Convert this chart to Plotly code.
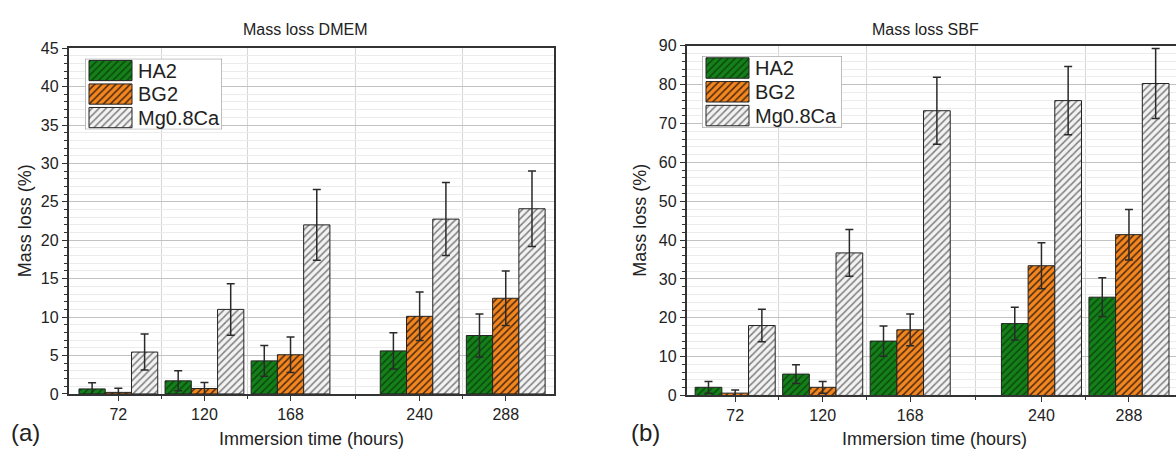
import plotly.graph_objects as go

# ---------------- data ----------------
hours = [72, 120, 168, 240, 288]
hour_labels = ["72", "120", "168", "240", "288"]
series_names = ["HA2", "BG2", "Mg0.8Ca"]

# DMEM mass loss (%) and error (+/-)
dmem_ha2 = [0.65, 1.7, 4.3, 5.6, 7.6]
dmem_ha2_err = [0.8, 1.3, 2.0, 2.35, 2.8]
dmem_bg2 = [0.2, 0.7, 5.1, 10.1, 12.45]
dmem_bg2_err = [0.55, 0.8, 2.3, 3.15, 3.55]
dmem_mg = [5.45, 11.0, 22.0, 22.75, 24.1]
dmem_mg_err = [2.35, 3.35, 4.6, 4.75, 4.9]

# SBF mass loss (%) and error (+/-)
sbf_ha2 = [2.1, 5.5, 14.0, 18.5, 25.3]
sbf_ha2_err = [1.5, 2.4, 3.9, 4.2, 5.0]
sbf_bg2 = [0.6, 2.1, 16.9, 33.4, 41.4]
sbf_bg2_err = [0.8, 1.5, 4.1, 5.9, 6.5]
sbf_mg = [18.0, 36.7, 73.3, 75.9, 80.3]
sbf_mg_err = [4.2, 6.0, 8.6, 8.8, 9.0]

group_boundaries = [96, 144, 204, 264]

# ---------------- styling ----------------
W, H = 1176, 461
FONT = "Liberation Sans, Arial, sans-serif"
TXT = "#222222"
AX = "#333333"

def fx(p):
    return p / W

def fy(p):
    return 1 - p / H

styles = {
    "HA2": dict(bg="#15801a", fg="#0a4a0c"),
    "BG2": dict(bg="#f4861f", fg="#4a2a10"),
    "Mg0.8Ca": dict(bg="#f2f2f2", fg="#808080"),
}

def bar_marker(name):
    s = styles[name]
    return dict(
        color=s["bg"],
        line=dict(color="#222222", width=1),
        pattern=dict(shape="/", fgcolor=s["fg"], bgcolor=s["bg"],
                     size=5, solidity=0.3, fillmode="replace"),
    )

fig = go.Figure()

panels = [
    ("x", "y", [(dmem_ha2, dmem_ha2_err), (dmem_bg2, dmem_bg2_err), (dmem_mg, dmem_mg_err)]),
    ("x2", "y2", [(sbf_ha2, sbf_ha2_err), (sbf_bg2, sbf_bg2_err), (sbf_mg, sbf_mg_err)]),
]

for xa, ya, data in panels:
    for name, (vals, errs) in zip(series_names, data):
        fig.add_trace(go.Bar(
            x=hours, y=vals, name=name, xaxis=xa, yaxis=ya,
            marker=bar_marker(name), showlegend=False,
            error_y=dict(type="data", array=errs, visible=True,
                         color="#2a2a2a", thickness=1.5, width=4),
        ))

# custom legends (drawn in small overlay axes)
legend_axes = [("x3", "y3"), ("x4", "y4")]
for xa, ya in legend_axes:
    for i, name in enumerate(series_names):
        fig.add_trace(go.Bar(
            y=[2.5 - i], x=[43], base=[4], orientation="h",
            width=0.86, offset=-0.43,
            xaxis=xa, yaxis=ya, marker=bar_marker(name),
            showlegend=False, hoverinfo="skip",
        ))

tickfont = dict(family=FONT, size=16, color=TXT)

def xaxis_cfg(d0, d1, rng, anchor, mirror=True):
    return dict(
        domain=[fx(d0), fx(d1)], range=rng, anchor=anchor,
        tickmode="array", tickvals=hours, ticktext=hour_labels,
        ticks="outside", ticklen=5, tickwidth=1.2, tickcolor=AX,
        showgrid=False, zeroline=False,
        showline=True, linecolor=AX, linewidth=1.5, mirror=mirror,
        tickfont=tickfont,
        minor=dict(tickmode="array", tickvals=group_boundaries, ticks="outside",
                   ticklen=3, tickcolor=AX, showgrid=True,
                   gridcolor="#d6d6d6", gridwidth=1),
    )

def yaxis_cfg(d_top, d_bot, rng, dtick, mdtick, anchor, mirror=True):
    return dict(
        domain=[fy(d_bot), fy(d_top)], range=rng, anchor=anchor,
        dtick=dtick, tick0=0,
        ticks="outside", ticklen=5, tickwidth=1.2, tickcolor=AX,
        showgrid=True, gridcolor="#c2c2c2", gridwidth=1,
        zeroline=False,
        showline=True, linecolor=AX, linewidth=1.5, mirror=mirror,
        tickfont=tickfont,
        minor=dict(dtick=mdtick, tick0=0, ticks="outside", ticklen=3,
                   tickcolor=AX, showgrid=True, gridcolor="#ececec", gridwidth=1),
    )

hidden = dict(visible=False, showgrid=False, zeroline=False, fixedrange=True)

fig.update_layout(
    width=W, height=H,
    margin=dict(l=0, r=0, t=0, b=0),
    paper_bgcolor="white", plot_bgcolor="white",
    barmode="group", bargap=0.085, bargroupgap=0,
    showlegend=False,
    font=dict(family=FONT, color=TXT),
    xaxis=xaxis_cfg(68.5, 553.8, [44.2, 314.8], "y"),
    yaxis=yaxis_cfg(41.7, 400.7, [0, 45], 5, 1, "x"),
    xaxis2=xaxis_cfg(686.5, 1176, [45.3, 313.8], "y2"),
    yaxis2=yaxis_cfg(39.3, 402.3, [0, 90], 10, 2, "x2", mirror=False),
    xaxis3=dict(domain=[fx(85), fx(222)], range=[0, 137], anchor="y3", **hidden),
    yaxis3=dict(domain=[fy(126), fy(52.7)], range=[0, 3], anchor="x3", **hidden),
    xaxis4=dict(domain=[fx(702), fx(842)], range=[0, 140], anchor="y4", **hidden),
    yaxis4=dict(domain=[fy(124), fy(50)], range=[0, 3], anchor="x4", **hidden),
)

# legend boxes
for xa, ya, xmax in [("x3", "y3", 137), ("x4", "y4", 140)]:
    fig.add_shape(type="rect", xref=xa, yref=ya, x0=0, x1=xmax, y0=0, y1=3,
                  line=dict(color="#7a7a7a", width=1), fillcolor="white",
                  layer="between")
    for i, name in enumerate(series_names):
        fig.add_annotation(xref=xa, yref=ya, x=51, y=2.5 - i, text=name,
                           showarrow=False, xanchor="left", yanchor="middle",
                           font=dict(family=FONT, size=20, color=TXT))

def ann(x, y, text, size, angle=0):
    fig.add_annotation(xref="paper", yref="paper", x=fx(x), y=fy(y), text=text,
                       showarrow=False, xanchor="center", yanchor="middle",
                       textangle=angle, font=dict(family=FONT, size=size, color=TXT))

ann(305, 22, "Mass loss DMEM", 16)
ann(925, 22, "Mass loss SBF", 16)
ann(24.5, 221, "Mass loss (%)", 18, -90)
ann(640, 221, "Mass loss (%)", 18, -90)
ann(311, 448, "Immersion time (hours)", 18)
ann(934, 448, "Immersion time (hours)", 18)
ann(25, 441, "(a)", 24)
ann(645, 441, "(b)", 24)

fig.write_html("out.html")
